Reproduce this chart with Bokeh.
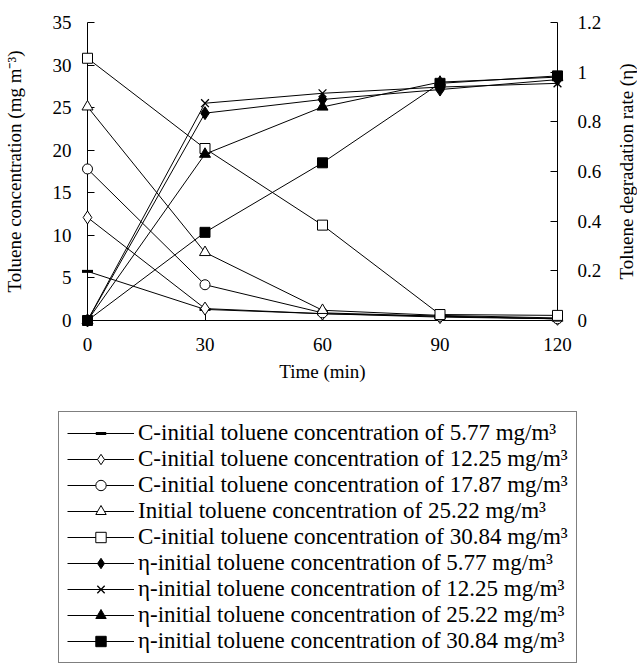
import math
from bokeh.plotting import figure
from bokeh.layouts import column
from bokeh.models import Range1d, LinearAxis, FixedTicker, Legend, LegendItem
from bokeh.core.properties import value
from bokeh.embed import file_html
from bokeh.resources import INLINE

# ---- data ----
time_min = [0, 30, 60, 90, 120]

c_577 = [5.77, 1.3, 0.8, 0.5, 0.2]
c_1225 = [12.1, 1.4, 0.8, 0.4, 0.2]
c_1787 = [17.8, 4.2, 0.9, 0.5, 0.2]
c_2522 = [25.1, 8.0, 1.2, 0.6, 0.3]
c_3084 = [30.8, 20.2, 11.2, 0.7, 0.6]

eta_577 = [0.0, 0.835, 0.89, 0.93, 0.97]
eta_1225 = [0.0, 0.875, 0.915, 0.94, 0.955]
eta_2522 = [0.0, 0.67, 0.86, 0.96, 0.98]
eta_3084 = [0.0, 0.355, 0.635, 0.955, 0.985]

x_ticks = [0, 30, 60, 90, 120]
left_ticks = [0, 5, 10, 15, 20, 25, 30, 35]
right_ticks = [0, 0.2, 0.4, 0.6, 0.8, 1.0, 1.2]
right_tick_labels = ["0", "0.2", "0.4", "0.6", "0.8", "1", "1.2"]

x_title = "Time (min)"
left_title = "Toluene concentration (mg m⁻³)"
right_title = "Toluene degradation rate (η)"

legend_labels = [
    "C-initial toluene concentration of 5.77 mg/m³",
    "C-initial toluene concentration of 12.25 mg/m³",
    "C-initial toluene concentration of 17.87 mg/m³",
    "Initial toluene concentration of 25.22 mg/m³",
    "C-initial toluene concentration of 30.84 mg/m³",
    "η-initial toluene concentration of 5.77 mg/m³",
    "η-initial toluene concentration of 12.25 mg/m³",
    "η-initial toluene concentration of 25.22 mg/m³",
    "η-initial toluene concentration of 30.84 mg/m³",
]

FONT = "Liberation Serif"

# ---- main chart ----
X0, X1, Y0, Y1, R0, R1 = 0, 120, 0, 35, 0, 1.2
FRAME_W = 471
p = figure(width=637, height=400, output_backend="svg", toolbar_location=None,
           x_range=Range1d(X0, X1), y_range=Range1d(Y0, Y1),
           min_border_left=86, min_border_right=80, min_border_top=22,
           min_border_bottom=80, x_axis_type=None, y_axis_type=None)
p.frame_align = False
p.extra_y_ranges = {"eta": Range1d(R0, R1)}
p.outline_line_color = None
p.background_fill_color = "white"
p.border_fill_color = "white"


def style_axis(ax):
    ax.axis_line_color = "black"
    ax.axis_line_width = 1
    ax.major_tick_line_color = "black"
    ax.major_tick_in = 7
    ax.major_tick_out = 0
    ax.minor_tick_line_color = None
    ax.major_label_text_font = FONT
    ax.major_label_text_font_size = "19px"
    ax.major_label_text_color = "black"
    ax.axis_label_text_font = FONT
    ax.axis_label_text_font_size = "19px"
    ax.axis_label_text_font_style = "normal"
    ax.axis_label_text_color = "black"


xaxis = LinearAxis(ticker=FixedTicker(ticks=x_ticks), axis_label=x_title)
style_axis(xaxis)
xaxis.major_label_standoff = 17
xaxis.axis_label_standoff = 7
p.add_layout(xaxis, "below")

yaxis = LinearAxis(ticker=FixedTicker(ticks=left_ticks), axis_label=left_title)
style_axis(yaxis)
yaxis.major_label_standoff = 16
yaxis.axis_label_standoff = 25
p.add_layout(yaxis, "left")

raxis = LinearAxis(y_range_name="eta", ticker=FixedTicker(ticks=right_ticks))
style_axis(raxis)
raxis.major_label_overrides = {t: s for t, s in zip(right_ticks, right_tick_labels)}
raxis.major_label_standoff = 20
p.add_layout(raxis, "right")

# right-axis title (reads bottom-to-top like the left one), 69px right of the axis
rt = p.text(x=[X1 + 69 * (X1 - X0) / FRAME_W], y=[(Y0 + Y1) / 2], text=[right_title],
            angle=math.pi / 2, text_align="center", text_baseline="middle",
            text_font=value(FONT), text_font_size="19px", text_color="black")
rt.level = "overlay"

styles = [
    ("dash", "black", 11, 3),
    ("diamond", "white", 13, 1),
    ("circle", "white", 10, 1),
    ("triangle", "white", 11, 1),
    ("square", "white", 10, 1),
    ("diamond", "black", 13, 1),
    ("x", None, 11, 1.3),
    ("triangle", "black", 11, 1),
    ("square", "black", 10, 1),
]
series_y = [c_577, c_1225, c_1787, c_2522, c_3084, eta_577, eta_1225, eta_2522, eta_3084]
series_range = ["default"] * 5 + ["eta"] * 4

for ys, (mk, fill, size, lw), yr in zip(series_y, styles, series_range):
    ln = p.line(time_min, ys, line_color="black", line_width=1, y_range_name=yr)
    sc = p.scatter(time_min, ys, marker=mk, size=size, fill_color=fill,
                   line_color="black", line_width=lw, y_range_name=yr)
    ln.level = "overlay"
    sc.level = "overlay"

# ---- legend panel (series re-drawn outside its visible range, only the key shows) ----
p2 = figure(width=637, height=267, output_backend="svg", toolbar_location=None,
            x_range=Range1d(-2, -1), y_range=Range1d(-2, -1),
            min_border=0, x_axis_type=None, y_axis_type=None)
p2.frame_align = False
p2.outline_line_color = None
p2.xgrid.visible = False
p2.ygrid.visible = False

items = []
for label, ys, (mk, fill, size, lw) in zip(legend_labels, series_y, styles):
    ln = p2.line(time_min, ys, line_color="black", line_width=1)
    sc = p2.scatter(time_min, ys, marker=mk, size=round(size * 0.8), fill_color=fill,
                    line_color="black", line_width=lw)
    items.append(LegendItem(label=label, renderers=[ln, sc]))

legend = Legend(items=items, location=(58, 4))
legend.label_text_font = FONT
legend.label_text_font_size = "23px"
legend.label_text_color = "black"
legend.label_text_baseline = "alphabetic"
legend.border_line_color = "black"
legend.border_line_width = 1
legend.background_fill_color = "white"
legend.background_fill_alpha = 1
legend.padding = 8
legend.spacing = 0
legend.margin = 0
legend.label_height = 26
legend.glyph_height = 26
legend.glyph_width = 67
legend.label_standoff = 4
p2.add_layout(legend, "center")

layout = column(p, p2, spacing=0)
open("out.html", "w").write(file_html(layout, INLINE))
